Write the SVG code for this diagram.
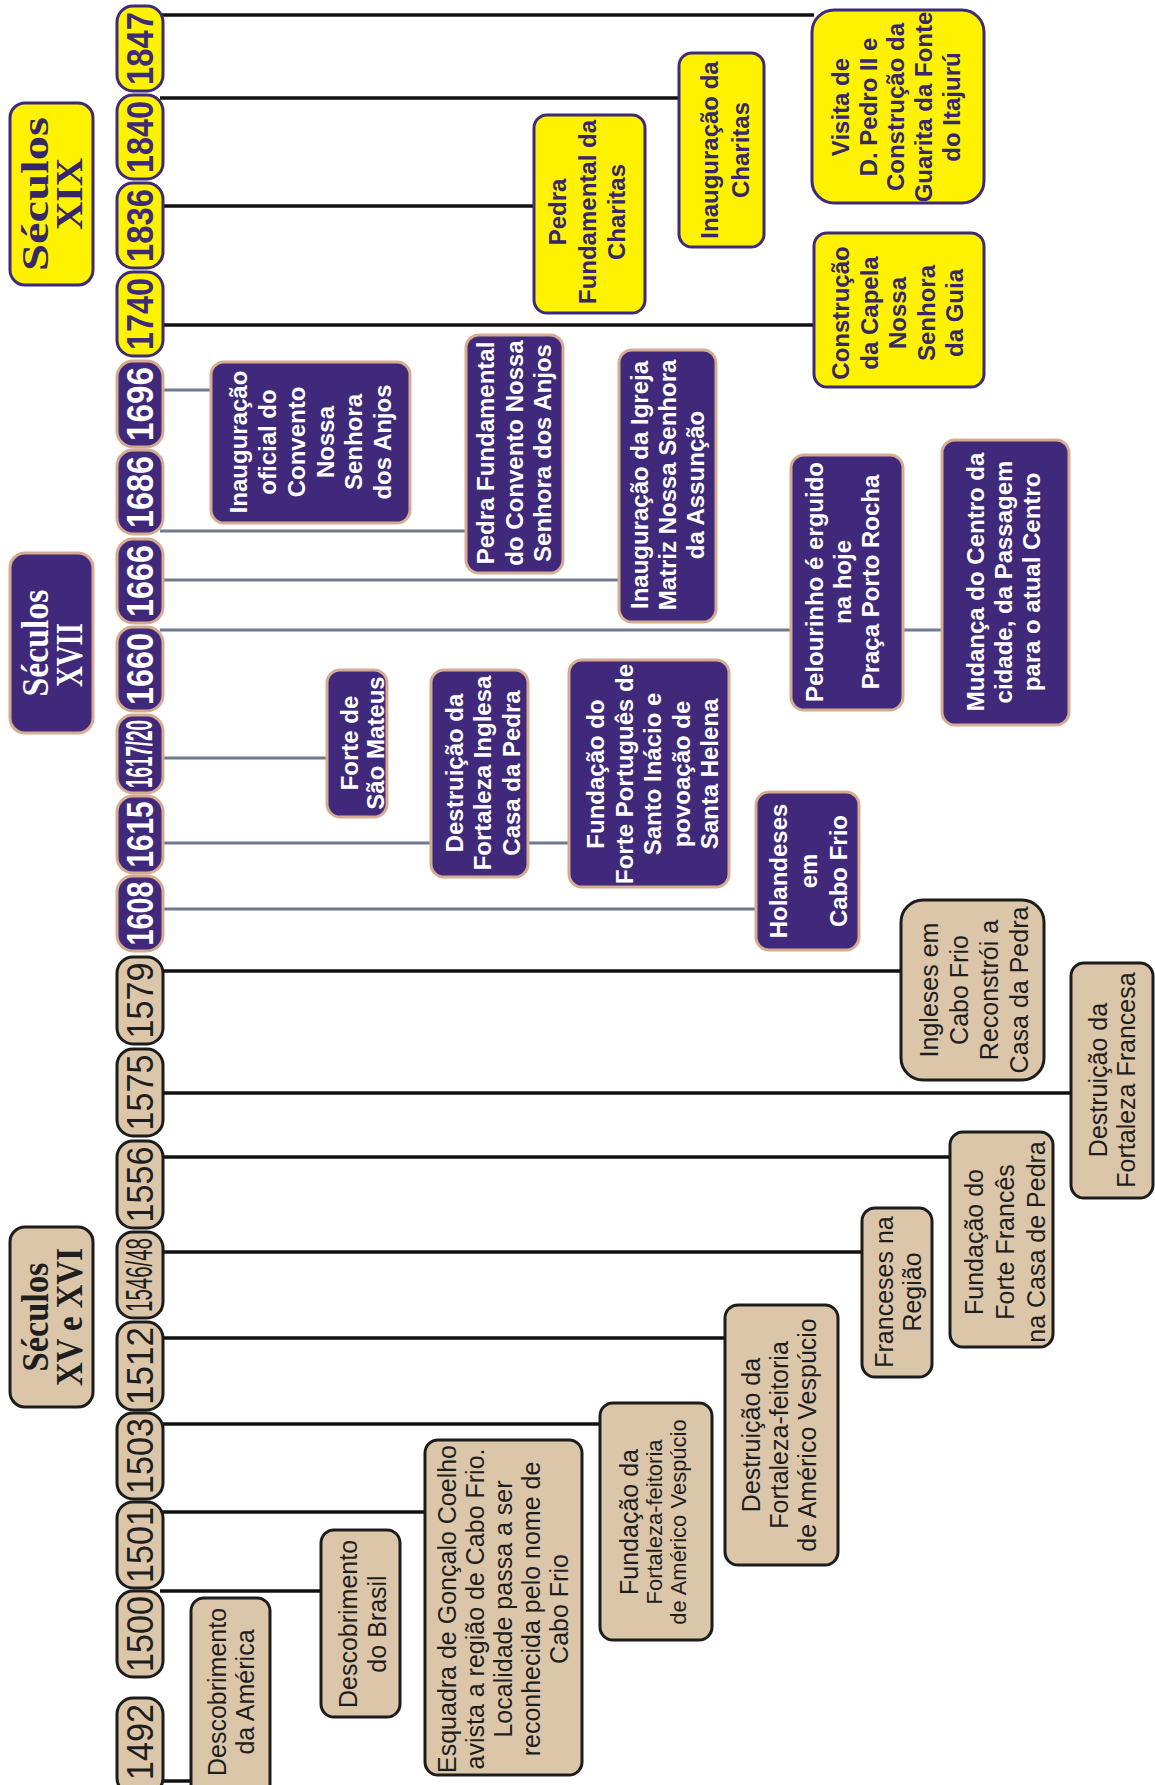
<svg xmlns="http://www.w3.org/2000/svg" width="1155" height="1785" viewBox="0 0 1155 1785">
<style>
.bg{fill:#ffffff}
.beige{fill:#dcc6aa;stroke:#1c1c1c;stroke-width:3}
.purple{fill:#40297a;stroke:#d6ab92;stroke-width:3}
.yellow{fill:#fff200;stroke:#3d2a78;stroke-width:3}
.lk{stroke:#111111;stroke-width:3.5;fill:none}
.ls{stroke:#6d7a8f;stroke-width:3;fill:none}
.tb{font-family:"Liberation Sans",Arial,sans-serif;font-size:25px;fill:#1e1e1e}
.tp{font-family:"Liberation Sans",Arial,sans-serif;font-size:24px;font-weight:bold;fill:#ffffff}
.ty{font-family:"Liberation Sans",Arial,sans-serif;font-size:24px;font-weight:bold;fill:#35276a}
.yb{font-family:"Liberation Sans",Arial,sans-serif;font-size:37px;fill:#1e1e1e}
.yp{font-family:"Liberation Sans",Arial,sans-serif;font-size:36px;font-weight:bold;fill:#ffffff}
.yy{font-family:"Liberation Sans",Arial,sans-serif;font-size:36px;font-weight:bold;fill:#3d2a78}
.cb{font-family:"Liberation Serif","Times New Roman",serif;font-size:38px;font-weight:bold;fill:#1e1e1e}
.cp{font-family:"Liberation Serif","Times New Roman",serif;font-size:38px;font-weight:bold;fill:#ffffff}
.cy{font-family:"Liberation Serif","Times New Roman",serif;font-size:38px;font-weight:bold;fill:#35276a}
</style>
<rect class="bg" x="0" y="0" width="1155" height="1785"/>

<g id="connectors">
<line class="lk" x1="160" y1="15" x2="814" y2="15"/>
<line class="lk" x1="160" y1="98" x2="681" y2="98"/>
<line class="lk" x1="160" y1="206" x2="536" y2="206"/>
<line class="lk" x1="160" y1="325" x2="816" y2="325"/>
<line class="ls" x1="160" y1="390" x2="213" y2="390"/>
<line class="ls" x1="160" y1="531" x2="468" y2="531"/>
<line class="ls" x1="160" y1="580" x2="621" y2="580"/>
<line class="ls" x1="160" y1="630" x2="793" y2="630"/>
<line class="ls" x1="901" y1="630" x2="944" y2="630"/>
<line class="ls" x1="160" y1="758" x2="329" y2="758"/>
<line class="ls" x1="160" y1="843" x2="433" y2="843"/>
<line class="ls" x1="526" y1="843" x2="571" y2="843"/>
<line class="ls" x1="160" y1="909" x2="758" y2="909"/>
<line class="lk" x1="160" y1="971" x2="903" y2="971"/>
<line class="lk" x1="160" y1="1093" x2="1073" y2="1093"/>
<line class="lk" x1="160" y1="1157" x2="952" y2="1157"/>
<line class="lk" x1="160" y1="1252" x2="864" y2="1252"/>
<line class="lk" x1="160" y1="1338" x2="727" y2="1338"/>
<line class="lk" x1="160" y1="1424" x2="602" y2="1424"/>
<line class="lk" x1="160" y1="1512" x2="427" y2="1512"/>
<line class="lk" x1="160" y1="1591" x2="323" y2="1591"/>
<line class="lk" x1="160" y1="1781" x2="193" y2="1781"/>
</g>

<!-- century labels -->
<g id="sec-xix">
<rect class="yellow" x="10" y="103" width="83" height="182" rx="15"/>
<g transform="translate(51.5,194) rotate(-90)">
<text class="cy" x="0" y="-3.5" text-anchor="middle" textLength="154" lengthAdjust="spacingAndGlyphs">Séculos</text>
<text class="cy" x="0" y="30.5" text-anchor="middle" textLength="72" lengthAdjust="spacingAndGlyphs">XIX</text>
</g>
</g>
<g id="sec-xvii">
<rect class="purple" x="10" y="553" width="83" height="180" rx="15"/>
<g transform="translate(51.5,643) rotate(-90)">
<text class="cp" x="0" y="-3.5" text-anchor="middle" textLength="107" lengthAdjust="spacingAndGlyphs">Séculos</text>
<text class="cp" x="-12" y="30.5" text-anchor="middle" textLength="64" lengthAdjust="spacingAndGlyphs">XVII</text>
</g>
</g>
<g id="sec-xv-xvi">
<rect class="beige" x="10" y="1227" width="83" height="180" rx="15"/>
<g transform="translate(51.5,1317) rotate(-90)">
<text class="cb" x="0" y="-3.5" text-anchor="middle" textLength="109" lengthAdjust="spacingAndGlyphs">Séculos</text>
<text class="cb" x="0" y="30.5" text-anchor="middle" textLength="138" lengthAdjust="spacingAndGlyphs">XV e XVI</text>
</g>
</g>

<!-- year boxes -->
<g id="y1847"><rect class="yellow" x="117" y="6" width="46" height="85" rx="16"/><text class="yy" transform="translate(140,48.5) rotate(-90)" x="0" y="13" text-anchor="middle" textLength="73" lengthAdjust="spacingAndGlyphs">1847</text></g>
<g id="y1840"><rect class="yellow" x="117" y="95" width="46" height="84" rx="16"/><text class="yy" transform="translate(140,137) rotate(-90)" x="0" y="13" text-anchor="middle" textLength="72" lengthAdjust="spacingAndGlyphs">1840</text></g>
<g id="y1836"><rect class="yellow" x="117" y="183" width="46" height="85" rx="16"/><text class="yy" transform="translate(140,225.5) rotate(-90)" x="0" y="13" text-anchor="middle" textLength="73" lengthAdjust="spacingAndGlyphs">1836</text></g>
<g id="y1740"><rect class="yellow" x="117" y="272" width="46" height="84" rx="16"/><text class="yy" transform="translate(140,314) rotate(-90)" x="0" y="13" text-anchor="middle" textLength="72" lengthAdjust="spacingAndGlyphs">1740</text></g>
<g id="y1696"><rect class="purple" x="117" y="361" width="46" height="86" rx="16"/><text class="yp" transform="translate(140,404) rotate(-90)" x="0" y="13" text-anchor="middle" textLength="74" lengthAdjust="spacingAndGlyphs">1696</text></g>
<g id="y1686"><rect class="purple" x="117" y="450" width="46" height="84" rx="16"/><text class="yp" transform="translate(140,492) rotate(-90)" x="0" y="13" text-anchor="middle" textLength="72" lengthAdjust="spacingAndGlyphs">1686</text></g>
<g id="y1666"><rect class="purple" x="117" y="539" width="46" height="84" rx="16"/><text class="yp" transform="translate(140,581) rotate(-90)" x="0" y="13" text-anchor="middle" textLength="72" lengthAdjust="spacingAndGlyphs">1666</text></g>
<g id="y1660"><rect class="purple" x="117" y="627" width="46" height="84" rx="16"/><text class="yp" transform="translate(140,669) rotate(-90)" x="0" y="13" text-anchor="middle" textLength="72" lengthAdjust="spacingAndGlyphs">1660</text></g>
<g id="y1617"><rect class="purple" x="117" y="715" width="46" height="78" rx="16"/><text class="yp" transform="translate(140,754) rotate(-90)" x="0" y="12" text-anchor="middle" font-size="30" font-weight="normal" textLength="68" lengthAdjust="spacingAndGlyphs">1617/20</text></g>
<g id="y1615"><rect class="purple" x="117" y="796" width="46" height="77" rx="16"/><text class="yp" transform="translate(140,834.5) rotate(-90)" x="0" y="13" text-anchor="middle" textLength="66" lengthAdjust="spacingAndGlyphs">1615</text></g>
<g id="y1608"><rect class="purple" x="117" y="876" width="46" height="75" rx="16"/><text class="yp" transform="translate(140,913.5) rotate(-90)" x="0" y="13" text-anchor="middle" textLength="64" lengthAdjust="spacingAndGlyphs">1608</text></g>
<g id="y1579"><rect class="beige" x="117" y="957" width="46" height="87" rx="16"/><text class="yb" transform="translate(140,1000.5) rotate(-90)" x="0" y="13" text-anchor="middle" textLength="76" lengthAdjust="spacingAndGlyphs">1579</text></g>
<g id="y1575"><rect class="beige" x="117" y="1049" width="46" height="87" rx="16"/><text class="yb" transform="translate(140,1092.5) rotate(-90)" x="0" y="13" text-anchor="middle" textLength="76" lengthAdjust="spacingAndGlyphs">1575</text></g>
<g id="y1556"><rect class="beige" x="117" y="1141" width="46" height="87" rx="16"/><text class="yb" transform="translate(140,1184.5) rotate(-90)" x="0" y="13" text-anchor="middle" textLength="76" lengthAdjust="spacingAndGlyphs">1556</text></g>
<g id="y1546"><rect class="beige" x="117" y="1232" width="46" height="86" rx="16"/><text class="yb" transform="translate(140,1275) rotate(-90)" x="0" y="12" text-anchor="middle" font-size="30" textLength="74" lengthAdjust="spacingAndGlyphs">1546/48</text></g>
<g id="y1512"><rect class="beige" x="117" y="1322" width="46" height="88" rx="16"/><text class="yb" transform="translate(140,1366) rotate(-90)" x="0" y="13" text-anchor="middle" textLength="78" lengthAdjust="spacingAndGlyphs">1512</text></g>
<g id="y1503"><rect class="beige" x="117" y="1413" width="46" height="86" rx="16"/><text class="yb" transform="translate(140,1456) rotate(-90)" x="0" y="13" text-anchor="middle" textLength="76" lengthAdjust="spacingAndGlyphs">1503</text></g>
<g id="y1501"><rect class="beige" x="117" y="1502" width="46" height="86" rx="16"/><text class="yb" transform="translate(140,1545) rotate(-90)" x="0" y="13" text-anchor="middle" textLength="76" lengthAdjust="spacingAndGlyphs">1501</text></g>
<g id="y1500"><rect class="beige" x="117" y="1591" width="46" height="86" rx="16"/><text class="yb" transform="translate(140,1634) rotate(-90)" x="0" y="13" text-anchor="middle" textLength="76" lengthAdjust="spacingAndGlyphs">1500</text></g>
<g id="y1492"><rect class="beige" x="117" y="1698" width="46" height="96" rx="16"/><text class="yb" transform="translate(140,1742) rotate(-90)" x="0" y="13" text-anchor="middle" textLength="76" lengthAdjust="spacingAndGlyphs">1492</text></g>

<!-- 16th century events -->
<g id="descobrimento-america">
<rect class="beige" x="191" y="1598" width="79" height="200" rx="13"/>
<text class="tb" font-size="26" transform="translate(230.5,1692) rotate(-90)" text-anchor="middle"><tspan x="0" y="-4.5">Descobrimento</tspan><tspan x="0" y="23.5">da América</tspan></text>
</g>
<g id="descobrimento-brasil">
<rect class="beige" x="321" y="1530" width="79" height="187" rx="13"/>
<text class="tb" font-size="26" transform="translate(360.5,1624) rotate(-90)" text-anchor="middle"><tspan x="0" y="-3.5">Descobrimento</tspan><tspan x="0" y="25.5">do Brasil</tspan></text>
</g>
<g id="esquadra">
<rect class="beige" x="425" y="1440" width="157" height="335" rx="13"/>
<text class="tb" font-size="23" transform="translate(503.5,1609) rotate(-90)" text-anchor="middle"><tspan x="0" y="-47.5">Esquadra de Gonçalo Coelho</tspan><tspan x="0" y="-19.5">avista a região de Cabo Frio.</tspan><tspan x="0" y="8.5">Localidade passa a ser</tspan><tspan x="0" y="36.5">reconhecida pelo nome de</tspan><tspan x="0" y="64.5">Cabo Frio</tspan></text>
</g>
<g id="fundacao-feitoria">
<rect class="beige" x="600" y="1403" width="112" height="237" rx="13"/>
<text class="tb" transform="translate(656,1522) rotate(-90)" text-anchor="middle"><tspan x="0" y="-18" font-size="25">Fundação da</tspan><tspan x="0" y="6" font-size="22">Fortaleza-feitoria</tspan><tspan x="0" y="30" font-size="22">de Américo Vespúcio</tspan></text>
</g>
<g id="destruicao-feitoria">
<rect class="beige" x="725" y="1305" width="113" height="260" rx="13"/>
<text class="tb" font-size="26" transform="translate(781.5,1435) rotate(-90)" text-anchor="middle"><tspan x="0" y="-21.5">Destruição da</tspan><tspan x="0" y="6.5">Fortaleza-feitoria</tspan><tspan x="0" y="34.5">de Américo Vespúcio</tspan></text>
</g>
<g id="franceses-regiao">
<rect class="beige" x="862" y="1208" width="70" height="169" rx="13"/>
<text class="tb" font-size="25" transform="translate(897,1292) rotate(-90)" text-anchor="middle"><tspan x="0" y="-4">Franceses na</tspan><tspan x="0" y="24">Região</tspan></text>
</g>
<g id="fundacao-forte-frances">
<rect class="beige" x="950" y="1132" width="103" height="215" rx="13"/>
<text class="tb" font-size="25.5" transform="translate(1001.5,1242) rotate(-90)" text-anchor="middle"><tspan x="0" y="-18.5">Fundação do</tspan><tspan x="0" y="12.5">Forte Francês</tspan><tspan x="0" y="43.5">na Casa de Pedra</tspan></text>
</g>
<g id="destruicao-francesa">
<rect class="beige" x="1071" y="963" width="82" height="235" rx="13"/>
<text class="tb" font-size="25.5" transform="translate(1112.5,1080) rotate(-90)" text-anchor="middle"><tspan x="0" y="-5.5">Destruição da</tspan><tspan x="0" y="22.5">Fortaleza Francesa</tspan></text>
</g>
<g id="ingleses">
<rect class="beige" x="901" y="900" width="143" height="180" rx="22"/>
<text class="tb" font-size="24.5" transform="translate(972.5,990) rotate(-90)" text-anchor="middle"><tspan x="0" y="-34.5">Ingleses em</tspan><tspan x="0" y="-4.5">Cabo Frio</tspan><tspan x="0" y="25.5">Reconstrói a</tspan><tspan x="0" y="55.5">Casa da Pedra</tspan></text>
</g>

<!-- 17th century events -->
<g id="holandeses">
<rect class="purple" x="756" y="792" width="103" height="158" rx="13"/>
<text class="tp" transform="translate(807.5,871) rotate(-90)" text-anchor="middle"><tspan x="0" y="-20.5">Holandeses</tspan><tspan x="0" y="9.5">em</tspan><tspan x="0" y="39.5">Cabo Frio</tspan></text>
</g>
<g id="forte-sao-mateus">
<rect class="purple" x="327" y="670" width="60" height="147" rx="13"/>
<text class="tp" transform="translate(357,743) rotate(-90)" text-anchor="middle"><tspan x="0" y="1">Forte de</tspan><tspan x="0" y="27">São Mateus</tspan></text>
</g>
<g id="destruicao-inglesa">
<rect class="purple" x="431" y="670" width="97" height="207" rx="13"/>
<text class="tp" transform="translate(479.5,773) rotate(-90)" text-anchor="middle"><tspan x="0" y="-16.5">Destruição da</tspan><tspan x="0" y="11.5">Fortaleza Inglesa</tspan><tspan x="0" y="40.5">Casa da Pedra</tspan></text>
</g>
<g id="forte-portugues">
<rect class="purple" x="569" y="660" width="160" height="227" rx="13"/>
<text class="tp" transform="translate(649,774) rotate(-90)" text-anchor="middle"><tspan x="0" y="-45">Fundação do</tspan><tspan x="0" y="-16.5">Forte Português de</tspan><tspan x="0" y="12">Santo Inácio e</tspan><tspan x="0" y="40.5">povoação de</tspan><tspan x="0" y="69">Santa Helena</tspan></text>
</g>
<g id="pelourinho">
<rect class="purple" x="791" y="455" width="112" height="255" rx="13"/>
<text class="tp" transform="translate(847,582) rotate(-90)" text-anchor="middle"><tspan x="0" y="-24">Pelourinho é erguido</tspan><tspan x="0" y="4">na hoje</tspan><tspan x="0" y="32">Praça Porto Rocha</tspan></text>
</g>
<g id="mudanca-centro">
<rect class="purple" x="942" y="440" width="127" height="285" rx="13"/>
<text class="tp" transform="translate(1005.5,582) rotate(-90)" text-anchor="middle"><tspan x="0" y="-21.5">Mudança do Centro da</tspan><tspan x="0" y="6.5">cidade, da Passagem</tspan><tspan x="0" y="34.5">para o atual Centro</tspan></text>
</g>
<g id="igreja-matriz">
<rect class="purple" x="619" y="350" width="97" height="272" rx="13"/>
<text class="tp" transform="translate(667.5,485) rotate(-90)" text-anchor="middle"><tspan x="0" y="-19.5">Inauguração da Igreja</tspan><tspan x="0" y="8.5">Matriz Nossa Senhora</tspan><tspan x="0" y="36.5">da Assunção</tspan></text>
</g>
<g id="pedra-convento">
<rect class="purple" x="466" y="335" width="97" height="238" rx="13"/>
<text class="tp" transform="translate(514.5,453) rotate(-90)" text-anchor="middle"><tspan x="0" y="-20.5">Pedra Fundamental</tspan><tspan x="0" y="8.5">do Convento Nossa</tspan><tspan x="0" y="36.5">Senhora dos Anjos</tspan></text>
</g>
<g id="inauguracao-convento">
<rect class="purple" x="211" y="362" width="199" height="161" rx="13"/>
<text class="tp" transform="translate(310.5,442) rotate(-90)" text-anchor="middle"><tspan x="0" y="-63.5">Inauguração</tspan><tspan x="0" y="-34.5">oficial do</tspan><tspan x="0" y="-5.5">Convento</tspan><tspan x="0" y="23.5">Nossa</tspan><tspan x="0" y="51.5">Senhora</tspan><tspan x="0" y="80.5">dos Anjos</tspan></text>
</g>

<!-- 18th/19th century events -->
<g id="pedra-charitas">
<rect class="yellow" x="534" y="115" width="111" height="198" rx="13"/>
<text class="ty" transform="translate(589.5,212) rotate(-90)" text-anchor="middle"><tspan x="0" y="-23.5">Pedra</tspan><tspan x="0" y="6">Fundamental da</tspan><tspan x="0" y="35.5">Charitas</tspan></text>
</g>
<g id="inauguracao-charitas">
<rect class="yellow" x="679" y="53" width="85" height="194" rx="13"/>
<text class="ty" transform="translate(721.5,150) rotate(-90)" text-anchor="middle"><tspan x="0" y="-3.5">Inauguração da</tspan><tspan x="0" y="27.5">Charitas</tspan></text>
</g>
<g id="visita-pedro-ii">
<rect class="yellow" x="812" y="10" width="172" height="193" rx="22"/>
<text class="ty" transform="translate(898,107) rotate(-90)" text-anchor="middle"><tspan x="0" y="-49">Visita de</tspan><tspan x="0" y="-21">D. Pedro II e</tspan><tspan x="0" y="6">Construção da</tspan><tspan x="0" y="34">Guarita da Fonte</tspan><tspan x="0" y="62">do Itajurú</tspan></text>
</g>
<g id="capela-guia">
<rect class="yellow" x="814" y="233" width="170" height="154" rx="13"/>
<text class="ty" transform="translate(899,313) rotate(-90)" text-anchor="middle"><tspan x="0" y="-50">Construção</tspan><tspan x="0" y="-21.5">da Capela</tspan><tspan x="0" y="7">Nossa</tspan><tspan x="0" y="35.5">Senhora</tspan><tspan x="0" y="64">da Guia</tspan></text>
</g>
</svg>
